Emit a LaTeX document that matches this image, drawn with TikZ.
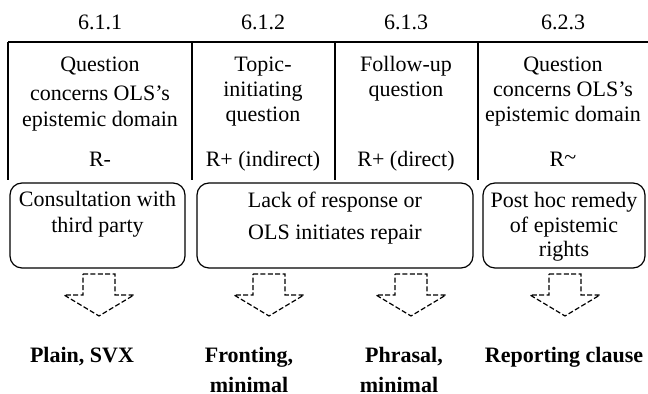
\documentclass[tikz,border=0pt]{standalone}
\usepackage{fontspec}
\setmainfont{Liberation Serif}
\begin{document}
\begin{tikzpicture}[x=0.5pt,y=-0.5pt,
  txt/.style={font=\fontsize{11}{13}\selectfont, inner sep=0pt, anchor=base},
  bld/.style={font=\fontsize{11}{13}\selectfont\bfseries, inner sep=0pt, anchor=base},
  rulel/.style={line width=0.65pt},
  bubble/.style={draw, rounded corners=6pt, line width=0.6pt, inner sep=0pt, minimum height=42.5pt},
  darrow/.style={draw, dash pattern=on 2.5pt off 1.2pt, line width=0.6pt},
  blockarrow/.pic={\path[darrow] (-16,274) -- (16,274) -- (16,295) -- (35,295) -- (0,316) -- (-35,295) -- (-16,295) -- cycle;}
]
\useasboundingbox (0,0) rectangle (648,394);

% header labels
\node[txt] (h1) at (100,30) {6.1.1};
\node[txt] (h2) at (263,30) {6.1.2};
\node[txt] (h3) at (406,30) {6.1.3};
\node[txt] (h4) at (563,30) {6.2.3};

% table rules
\draw[rulel] (8,42) -- (648,42);
\draw[rulel] (8,42) -- (8,180);
\draw[rulel] (192,42) -- (192,180);
\draw[rulel] (335,42) -- (335,180);
\draw[rulel] (478,42) -- (478,180);

% column 1
\node[txt] (c1a) at (100,72) {Question};
\node[txt] (c1b) at (100,101) {concerns OLS’s};
\node[txt] (c1c) at (100,127) {epistemic domain};
\node[txt] (c1r) at (100,167) {R-};
% column 2
\node[txt] (c2a) at (263,72) {Topic-};
\node[txt] (c2b) at (263,97) {initiating};
\node[txt] (c2c) at (263,122) {question};
\node[txt] (c2r) at (263,167) {R+ (indirect)};
% column 3
\node[txt] (c3a) at (406,72) {Follow-up};
\node[txt] (c3b) at (406,97) {question};
\node[txt] (c3r) at (406,167) {R+ (direct)};
% column 4
\node[txt] (c4a) at (563,72) {Question};
\node[txt] (c4b) at (563,97) {concerns OLS’s};
\node[txt] (c4c) at (563,122) {epistemic domain};
\node[txt] (c4r) at (563,167) {R\raisebox{0.25ex}{\char"007E}};

% rounded boxes
\node[bubble, minimum width=87.5pt] (b1) at (97.5,225.5) {};
\node[bubble, minimum width=138pt] (b2) at (335,225.5) {};
\node[bubble, minimum width=81pt] (b3) at (564,225.5) {};

\node[txt] (b1a) at (97.5,207) {Consultation with};
\node[txt] (b1b) at (97.5,233) {third party};
\node[txt] (b2a) at (335,208) {Lack of response or};
\node[txt] (b2b) at (335,240) {OLS initiates repair};
\node[txt] (b3a) at (564,208) {Post hoc remedy};
\node[txt] (b3b) at (564,233) {of epistemic};
\node[txt] (b3c) at (564,257) {rights};

% dashed block arrows
\pic at (99,0) {blockarrow};
\pic at (269,0) {blockarrow};
\pic at (411,0) {blockarrow};
\pic at (565,0) {blockarrow};

% outcomes
\node[bld] (o1) at (82,363) {Plain, SVX};
\node[bld] (o2a) at (249,363) {Fronting,};
\node[bld] (o2b) at (249,393) {minimal};
\node[bld] (o3a) at (404,363) {Phrasal,};
\node[bld] (o3b) at (399,393) {minimal};
\node[bld] (o4) at (564,363) {Reporting clause};
\end{tikzpicture}
\end{document}
